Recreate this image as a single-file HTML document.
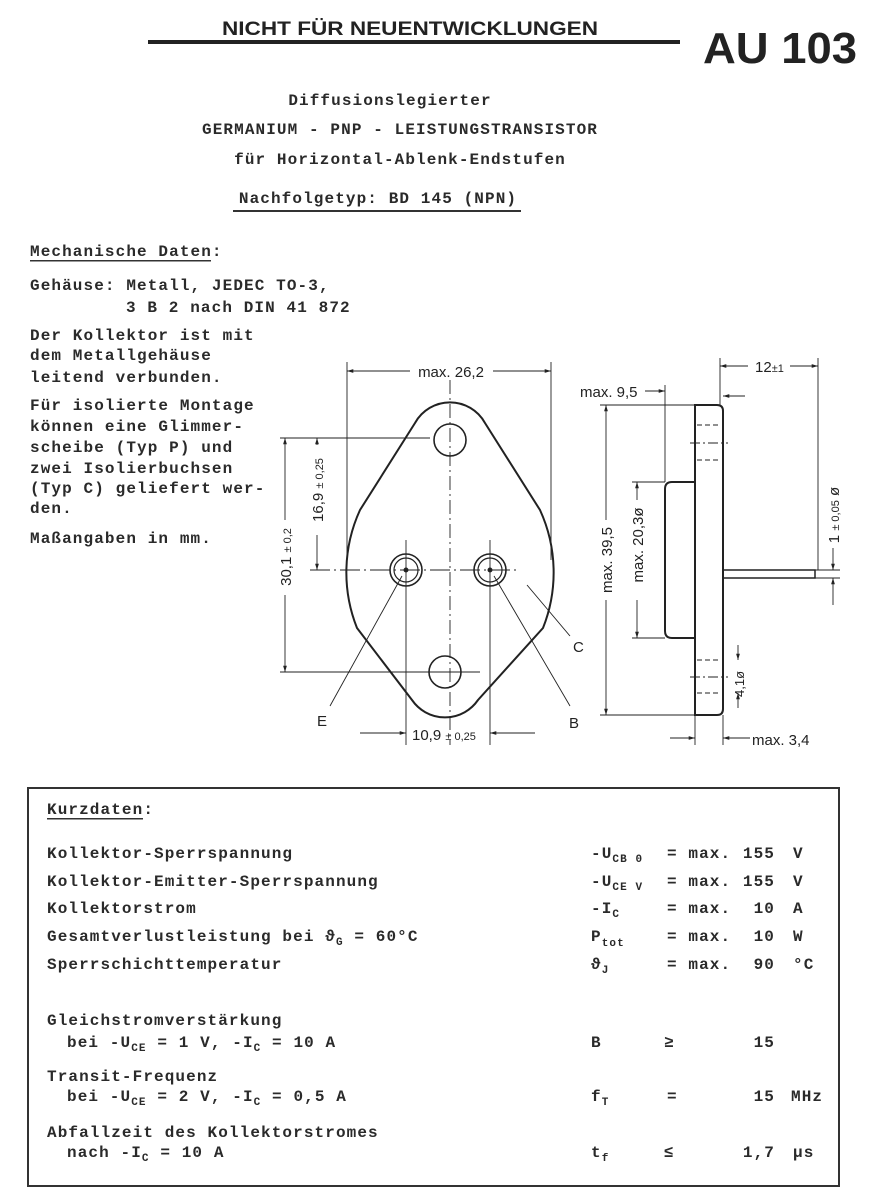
<!DOCTYPE html>
<html><head><meta charset="utf-8"><style>
html,body{margin:0;padding:0;background:#fff;}
svg{display:block;}
.t{font-family:"Liberation Mono",monospace;font-size:16px;letter-spacing:1.1px;fill:#2a2a2a;font-weight:bold;}
.d{font-family:"Liberation Sans",sans-serif;font-size:15px;fill:#222;}
.s{font-size:11px;}
</style></head><body>
<svg width="871" height="1200" viewBox="0 0 871 1200" xmlns="http://www.w3.org/2000/svg">
<defs>
<marker id="a" viewBox="0 0 10 10" refX="10" refY="5" markerWidth="7" markerHeight="7" orient="auto-start-reverse"><path d="M0,2 L10,5 L0,8 z" fill="#222"/></marker>
</defs>
<rect width="871" height="1200" fill="#fff"/>
<!-- header -->
<text x="222" y="35" font-family="Liberation Sans,sans-serif" font-weight="bold" font-size="19" textLength="376" lengthAdjust="spacingAndGlyphs" fill="#222">NICHT FÜR NEUENTWICKLUNGEN</text>
<rect x="148" y="40" width="532" height="4" fill="#222"/>
<text x="703" y="63" font-family="Liberation Sans,sans-serif" font-weight="bold" font-size="44" textLength="154" lengthAdjust="spacingAndGlyphs" fill="#222">AU 103</text>

<g class="t" text-anchor="middle">
<text x="390" y="105">Diffusionslegierter</text>
<text x="400" y="134">GERMANIUM - PNP - LEISTUNGSTRANSISTOR</text>
<text x="400" y="164">für Horizontal-Ablenk-Endstufen</text>
<text x="378" y="203">Nachfolgetyp:  BD 145 (NPN)</text>
</g>
<rect x="233" y="210" width="288" height="2" fill="#333"/>

<!-- left text -->
<g class="t">
<text x="30" y="256">Mechanische Daten:</text>
<text x="30" y="290">Gehäuse: Metall, JEDEC TO-3,</text>
<text x="126" y="312">3 B 2 nach DIN 41 872</text>
<text x="30" y="340">Der Kollektor ist mit</text>
<text x="30" y="360">dem Metallgehäuse</text>
<text x="30" y="382">leitend verbunden.</text>
<text x="30" y="410">Für isolierte Montage</text>
<text x="30" y="431">können eine  Glimmer-</text>
<text x="30" y="452">scheibe (Typ P)  und</text>
<text x="30" y="473">zwei Isolierbuchsen</text>
<text x="30" y="493">(Typ C) geliefert wer-</text>
<text x="30" y="513">den.</text>
<text x="30" y="543">Maßangaben in mm.</text>
</g>
<rect x="30" y="260" width="181" height="1.5" fill="#333"/>

<!-- front view -->
<g stroke="#222" fill="none">
<path d="M415,423 A40,40 0 0 1 485,423 L540,510 A150,150 0 0 1 543,628 L478,700 A40,40 0 0 1 412,700 L357,628 A150,150 0 0 1 360,510 Z" stroke-width="2"/>
<circle cx="450" cy="440" r="16" stroke-width="1.6"/>
<circle cx="445" cy="672" r="16" stroke-width="1.6"/>
<circle cx="406" cy="570" r="16" stroke-width="1.6"/>
<circle cx="406" cy="570" r="12" stroke-width="1.2"/>
<circle cx="490" cy="570" r="16" stroke-width="1.6"/>
<circle cx="490" cy="570" r="12" stroke-width="1.2"/>
<circle cx="406" cy="570" r="2" fill="#222"/>
<circle cx="490" cy="570" r="2" fill="#222"/>
<g stroke-width="0.9">
<line x1="450" y1="380" x2="450" y2="745" stroke-dasharray="14,4,2,4"/>
<line x1="406" y1="540" x2="406" y2="745"/>
<line x1="490" y1="540" x2="490" y2="745"/>
<line x1="310" y1="570" x2="520" y2="570" stroke-dasharray="20,4,2,4"/>
<line x1="280" y1="438" x2="430" y2="438"/>
<line x1="280" y1="672" x2="480" y2="672"/>
<line x1="347" y1="362" x2="347" y2="560"/>
<line x1="551" y1="362" x2="551" y2="560"/>
<line x1="347" y1="371" x2="410" y2="371" marker-start="url(#a)"/>
<line x1="493" y1="371" x2="551" y2="371" marker-end="url(#a)"/>
<line x1="285" y1="438" x2="285" y2="520" marker-start="url(#a)"/>
<line x1="285" y1="595" x2="285" y2="672" marker-end="url(#a)"/>
<line x1="317" y1="438" x2="317" y2="445" marker-start="url(#a)"/>
<line x1="317" y1="535" x2="317" y2="570" marker-end="url(#a)"/>
<line x1="360" y1="733" x2="406" y2="733" marker-end="url(#a)"/>
<line x1="535" y1="733" x2="490" y2="733" marker-end="url(#a)"/>
<line x1="330" y1="706" x2="402" y2="576"/>
<line x1="570" y1="706" x2="494" y2="576"/>
<line x1="570" y1="636" x2="527" y2="585"/>
</g>
</g>
<g class="d">
<text x="451" y="377" text-anchor="middle">max. 26,2</text>
<text x="412" y="740">10,9 <tspan class="s">± 0,25</tspan></text>
<text x="317" y="726">E</text>
<text x="569" y="728">B</text>
<text x="573" y="652">C</text>
<text transform="translate(291,557) rotate(-90)" text-anchor="middle">30,1 <tspan class="s">± 0,2</tspan></text>
<text transform="translate(323,490) rotate(-90)" text-anchor="middle">16,9 <tspan class="s">± 0,25</tspan></text>
</g>

<!-- side view -->
<g stroke="#222" fill="none">
<path d="M695,405 L717,405 Q723,405 723,411 L723,709 Q723,715 717,715 L695,715 Z" stroke-width="2"/>
<path d="M695,482 L672,482 Q665,482 665,489 L665,631 Q665,638 672,638 L695,638" stroke-width="2"/>
<path d="M723,570 L815,570 L815,578 L723,578" stroke-width="1.5"/>
<g stroke-width="0.9">
<line x1="697" y1="425" x2="721" y2="425" stroke-dasharray="5,3"/>
<line x1="690" y1="443" x2="728" y2="443" stroke-dasharray="10,3,2,3"/>
<line x1="697" y1="460" x2="721" y2="460" stroke-dasharray="5,3"/>
<line x1="697" y1="660" x2="721" y2="660" stroke-dasharray="5,3"/>
<line x1="690" y1="677" x2="728" y2="677" stroke-dasharray="10,3,2,3"/>
<line x1="697" y1="693" x2="721" y2="693" stroke-dasharray="5,3"/>
<line x1="600" y1="405" x2="695" y2="405"/>
<line x1="600" y1="715" x2="695" y2="715"/>
<line x1="632" y1="482" x2="665" y2="482"/>
<line x1="632" y1="638" x2="665" y2="638"/>
<line x1="665" y1="385" x2="665" y2="482"/>
<line x1="720" y1="358" x2="720" y2="405"/>
<line x1="818" y1="358" x2="818" y2="570"/>
<line x1="606" y1="405" x2="606" y2="520" marker-start="url(#a)"/>
<line x1="606" y1="600" x2="606" y2="715" marker-end="url(#a)"/>
<line x1="637" y1="482" x2="637" y2="500" marker-start="url(#a)"/>
<line x1="637" y1="600" x2="637" y2="638" marker-end="url(#a)"/>
<line x1="645" y1="391" x2="665" y2="391" marker-end="url(#a)"/>
<line x1="745" y1="396" x2="723" y2="396" marker-end="url(#a)"/>
<line x1="720" y1="366" x2="748" y2="366" marker-start="url(#a)"/>
<line x1="790" y1="366" x2="818" y2="366" marker-end="url(#a)"/>
<line x1="833" y1="548" x2="833" y2="570" marker-end="url(#a)"/>
<line x1="833" y1="605" x2="833" y2="578" marker-end="url(#a)"/>
<line x1="815" y1="570" x2="840" y2="570"/>
<line x1="815" y1="578" x2="840" y2="578"/>
<line x1="738" y1="645" x2="738" y2="660" marker-end="url(#a)"/>
<line x1="738" y1="708" x2="738" y2="693" marker-end="url(#a)"/>
<line x1="695" y1="715" x2="695" y2="745"/>
<line x1="723" y1="715" x2="723" y2="745"/>
<line x1="670" y1="738" x2="695" y2="738" marker-end="url(#a)"/>
<line x1="750" y1="738" x2="723" y2="738" marker-end="url(#a)"/>
</g>
</g>
<g class="d">
<text x="580" y="397">max. 9,5</text>
<text x="755" y="372">12<tspan class="s">±1</tspan></text>
<text x="752" y="745">max. 3,4</text>
<text transform="translate(612,560) rotate(-90)" text-anchor="middle">max. 39,5</text>
<text transform="translate(643,545) rotate(-90)" text-anchor="middle">max. 20,3ø</text>
<text transform="translate(839,515) rotate(-90)" text-anchor="middle">1 <tspan class="s">± 0,05</tspan> ø</text>
<text transform="translate(744,684) rotate(-90)" text-anchor="middle" font-size="13">4,1ø</text>
</g>

<!-- Kurzdaten box -->
<rect x="28" y="788" width="811" height="398" fill="none" stroke="#333" stroke-width="2"/>
<g class="t">
<text x="47" y="814">Kurzdaten:</text>
<text x="47" y="858">Kollektor-Sperrspannung</text>
<text x="47" y="886">Kollektor-Emitter-Sperrspannung</text>
<text x="47" y="913">Kollektorstrom</text>
<text x="47" y="941">Gesamtverlustleistung bei ϑ<tspan class="s" dy="4">G</tspan><tspan dy="-4"> = 60°C</tspan></text>
<text x="47" y="969">Sperrschichttemperatur</text>
<text x="47" y="1025">Gleichstromverstärkung</text>
<text x="67" y="1047">bei -U<tspan class="s" dy="4">CE</tspan><tspan dy="-4"> = 1 V, -I</tspan><tspan class="s" dy="4">C</tspan><tspan dy="-4"> = 10 A</tspan></text>
<text x="47" y="1081">Transit-Frequenz</text>
<text x="67" y="1101">bei -U<tspan class="s" dy="4">CE</tspan><tspan dy="-4"> = 2 V, -I</tspan><tspan class="s" dy="4">C</tspan><tspan dy="-4"> = 0,5 A</tspan></text>
<text x="47" y="1137">Abfallzeit des Kollektorstromes</text>
<text x="67" y="1157">nach -I<tspan class="s" dy="4">C</tspan><tspan dy="-4"> = 10 A</tspan></text>

<text x="591" y="858">-U<tspan class="s" dy="4">CB 0</tspan></text>
<text x="591" y="886">-U<tspan class="s" dy="4">CE V</tspan></text>
<text x="591" y="913">-I<tspan class="s" dy="4">C</tspan></text>
<text x="591" y="941">P<tspan class="s" dy="5">tot</tspan></text>
<text x="591" y="969">ϑ<tspan class="s" dy="4">J</tspan></text>
<text x="591" y="1047">B</text>
<text x="591" y="1101">f<tspan class="s" dy="4">T</tspan></text>
<text x="591" y="1157">t<tspan class="s" dy="4">f</tspan></text>

<text x="667" y="858">= max.</text>
<text x="667" y="886">= max.</text>
<text x="667" y="913">= max.</text>
<text x="667" y="941">= max.</text>
<text x="667" y="969">= max.</text>
<text x="664" y="1047">≥</text>
<text x="667" y="1101">=</text>
<text x="664" y="1157">≤</text>

<g text-anchor="end">
<text x="775" y="858">155</text>
<text x="775" y="886">155</text>
<text x="775" y="913">10</text>
<text x="775" y="941">10</text>
<text x="775" y="969">90</text>
<text x="775" y="1047">15</text>
<text x="775" y="1101">15</text>
<text x="775" y="1157">1,7</text>
</g>
<text x="793" y="858">V</text>
<text x="793" y="886">V</text>
<text x="793" y="913">A</text>
<text x="793" y="941">W</text>
<text x="793" y="969">°C</text>
<text x="791" y="1101">MHz</text>
<text x="793" y="1157">μs</text>
</g>
<rect x="47" y="818" width="96" height="1.5" fill="#333"/>
</svg>
</body></html>
